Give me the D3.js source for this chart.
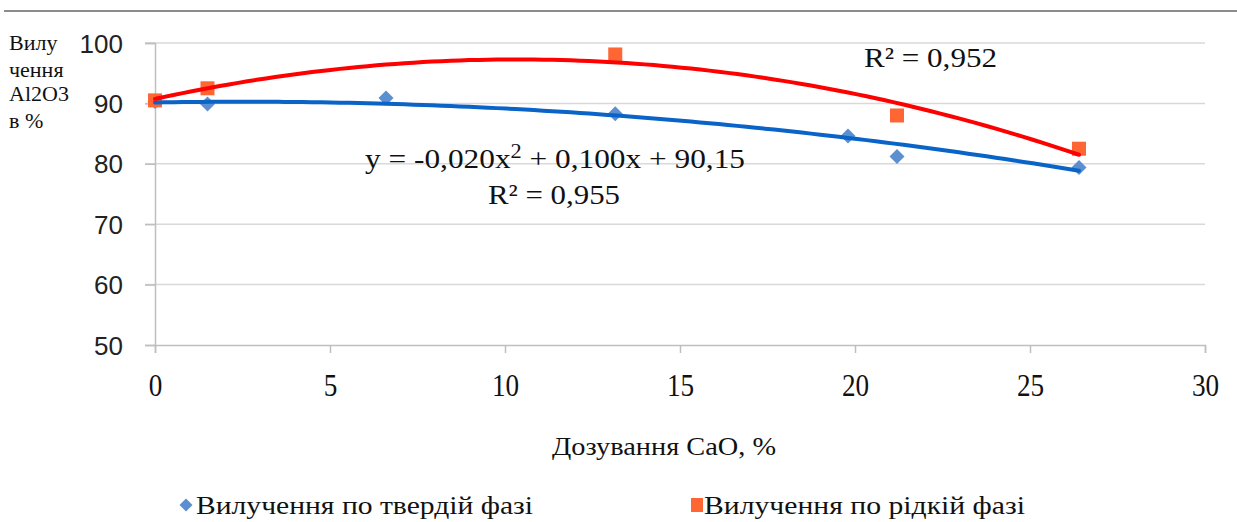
<!DOCTYPE html>
<html>
<head>
<meta charset="utf-8">
<script src="https://cdn.jsdelivr.net/npm/d3@7"></script>
<style>
  html, body { margin: 0; padding: 0; background: #fff; }
  svg { display: block; }
</style>
</head>
<body>
<svg id="chart" width="1237" height="522"></svg>
<script>
// CaO dosage (%) and Al2O3 extraction (%)
const solidX = [0, 1.5, 6.6, 13.15, 19.8, 21.2, 26.4];
const solidY = [90.3, 89.9, 90.9, 88.3, 84.6, 81.2, 79.4];
const liquidX = [0, 1.5, 13.15, 21.2, 26.4];
const liquidY = [90.5, 92.5, 98.1, 88.0, 82.5];

// Quadratic trend for the solid phase, as stated on the chart (a, b, c)
const solidTrend = [-0.020, 0.100, 90.15];

const xTicks = [0, 5, 10, 15, 20, 25, 30];
const yTicks = [50, 60, 70, 80, 90, 100];

const seriesNames = ["Вилучення по твердій фазі", "Вилучення по рідкій фазі"];
const yTitleLines = ["Вилу", "чення", "Al2O3", "в %"];
const xTitle = "Дозування  CaO, %";
const eqParts = ["y = -0,020x", "2", " + 0,100x + 90,15"];
const r2Solid = "R² = 0,955";
const r2Liquid = "R² = 0,952";

const solidMarker = "#5B8FCF";
const solidLine = "#0A64C8";
const liquidMarker = "#FF6633";
const liquidLine = "#FF0000";

// least-squares quadratic fit: returns [a, b, c] for y = a x² + b x + c
function quadFit(xs, ys) {
  let s0 = xs.length, s1 = 0, s2 = 0, s3 = 0, s4 = 0, t0 = 0, t1 = 0, t2 = 0;
  xs.forEach((x, i) => {
    const y = ys[i];
    s1 += x; s2 += x * x; s3 += x * x * x; s4 += x * x * x * x;
    t0 += y; t1 += x * y; t2 += x * x * y;
  });
  const M = [[s4, s3, s2, t2], [s3, s2, s1, t1], [s2, s1, s0, t0]];
  for (let i = 0; i < 3; i++) {
    for (let k = i + 1; k < 3; k++) {
      const f = M[k][i] / M[i][i];
      for (let j = i; j < 4; j++) M[k][j] -= f * M[i][j];
    }
  }
  const r = [0, 0, 0];
  for (let i = 2; i >= 0; i--) {
    let s = M[i][3];
    for (let j = i + 1; j < 3; j++) s -= M[i][j] * r[j];
    r[i] = s / M[i][i];
  }
  return r;
}
const liquidTrend = quadFit(liquidX, liquidY);

const svg = d3.select("#chart");
const x = d3.scaleLinear().domain([0, 30]).range([155, 1205]);
const y = d3.scaleLinear().domain([50, 100]).range([345, 43]);

// top rule
svg.append("line").attr("x1", 4).attr("x2", 1237).attr("y1", 11).attr("y2", 11)
  .attr("stroke", "#8c8c8c").attr("stroke-width", 2);

// horizontal gridlines
svg.append("g").selectAll("line").data(yTicks.filter(d => d > 50)).join("line")
  .attr("x1", 145).attr("x2", 1205)
  .attr("y1", d => y(d)).attr("y2", d => y(d))
  .attr("stroke", "#d9d9d9").attr("stroke-width", 1.5);

// y axis
const yAxis = svg.append("g").attr("transform", "translate(155,0)")
  .call(d3.axisLeft(y).tickValues(yTicks).tickSize(10).tickPadding(22).tickFormat(d3.format("d")));
yAxis.select(".domain").attr("stroke", "#bfbfbf").attr("stroke-width", 1.5);
yAxis.selectAll(".tick line").attr("stroke", "#bfbfbf").attr("stroke-width", 1.5);
yAxis.selectAll("text").attr("font-family", "'Liberation Sans', Arial, sans-serif")
  .attr("font-size", 26).attr("fill", "#222").attr("dy", "0.35em");

// x axis
const xAxis = svg.append("g").attr("transform", "translate(0,345)")
  .call(d3.axisBottom(x).tickValues(xTicks).tickSize(8).tickPadding(24).tickFormat(d3.format("d")));
xAxis.select(".domain").attr("stroke", "#bfbfbf").attr("stroke-width", 1.5);
xAxis.selectAll(".tick line").attr("stroke", "#bfbfbf").attr("stroke-width", 1.5);
xAxis.selectAll("text").attr("font-family", "'Liberation Serif', 'Times New Roman', serif")
  .attr("font-size", 32).attr("fill", "#111").attr("dy", "0.6em")
  .attr("transform", "scale(0.85,1)");

// square-proportioned diamond marker
const diamond = "M0,-7.5L7.5,0L0,7.5L-7.5,0Z";

// markers
svg.append("g").selectAll("path").data(solidX.map((d, i) => [d, solidY[i]])).join("path")
  .attr("d", diamond)
  .attr("transform", d => `translate(${x(d[0])},${y(d[1])})`)
  .attr("fill", solidMarker);

svg.append("g").selectAll("rect").data(liquidX.map((d, i) => [d, liquidY[i]])).join("rect")
  .attr("x", d => x(d[0]) - 7).attr("y", d => y(d[1]) - 7)
  .attr("width", 14).attr("height", 14)
  .attr("fill", liquidMarker);

// trendlines
function trendPoints(c, x0, x1) {
  return d3.range(0, 101).map(i => {
    const t = x0 + (x1 - x0) * i / 100;
    return [t, c[0] * t * t + c[1] * t + c[2]];
  });
}
const line = d3.line().x(d => x(d[0])).y(d => y(d[1])).curve(d3.curveBasis);
svg.append("path").datum(trendPoints(solidTrend, d3.min(solidX), d3.max(solidX)))
  .attr("d", line).attr("fill", "none").attr("stroke", solidLine).attr("stroke-width", 4)
  .attr("stroke-linecap", "round");
svg.append("path").datum(trendPoints(liquidTrend, d3.min(liquidX), d3.max(liquidX)))
  .attr("d", line).attr("fill", "none").attr("stroke", liquidLine).attr("stroke-width", 4)
  .attr("stroke-linecap", "round");

const serif = "'Liberation Serif', 'Times New Roman', serif";

// text helper with a fixed rendered width
function label(txt, xPos, yPos, size, len, anchor) {
  return svg.append("text").attr("x", xPos).attr("y", yPos)
    .attr("font-family", serif).attr("font-size", size).attr("fill", "#111")
    .attr("text-anchor", anchor || "start")
    .attr("textLength", len).attr("lengthAdjust", "spacingAndGlyphs")
    .text(txt);
}
label(r2Liquid, 864, 67, 28, 133);
label(r2Solid, 488, 204, 28, 132);

// trend equation with a raised exponent
const eq = svg.append("text").attr("x", 365).attr("y", 168)
  .attr("font-family", serif).attr("font-size", 28).attr("fill", "#111")
  .attr("textLength", 380).attr("lengthAdjust", "spacingAndGlyphs");
eq.append("tspan").text(eqParts[0]);
eq.append("tspan").attr("font-size", 20).attr("dy", -10).text(eqParts[1]);
eq.append("tspan").attr("dy", 10).text(eqParts[2]);

// y-axis title
yTitleLines.forEach((t, i) => {
  svg.append("text").attr("x", 9).attr("y", [50, 77, 101, 128][i])
    .attr("font-family", serif).attr("font-size", 22).attr("fill", "#111").text(t);
});

// x-axis title
label(xTitle, 552, 455, 26, 224);

// legend
svg.append("path").attr("d", "M0,-6.5L6.5,0L0,6.5L-6.5,0Z")
  .attr("transform", "translate(186,505)").attr("fill", solidMarker);
label(seriesNames[0], 196, 514, 26, 337);
svg.append("rect").attr("x", 691).attr("y", 498).attr("width", 12).attr("height", 14)
  .attr("fill", liquidMarker);
label(seriesNames[1], 704, 514, 26, 321);
</script>
</body>
</html>
